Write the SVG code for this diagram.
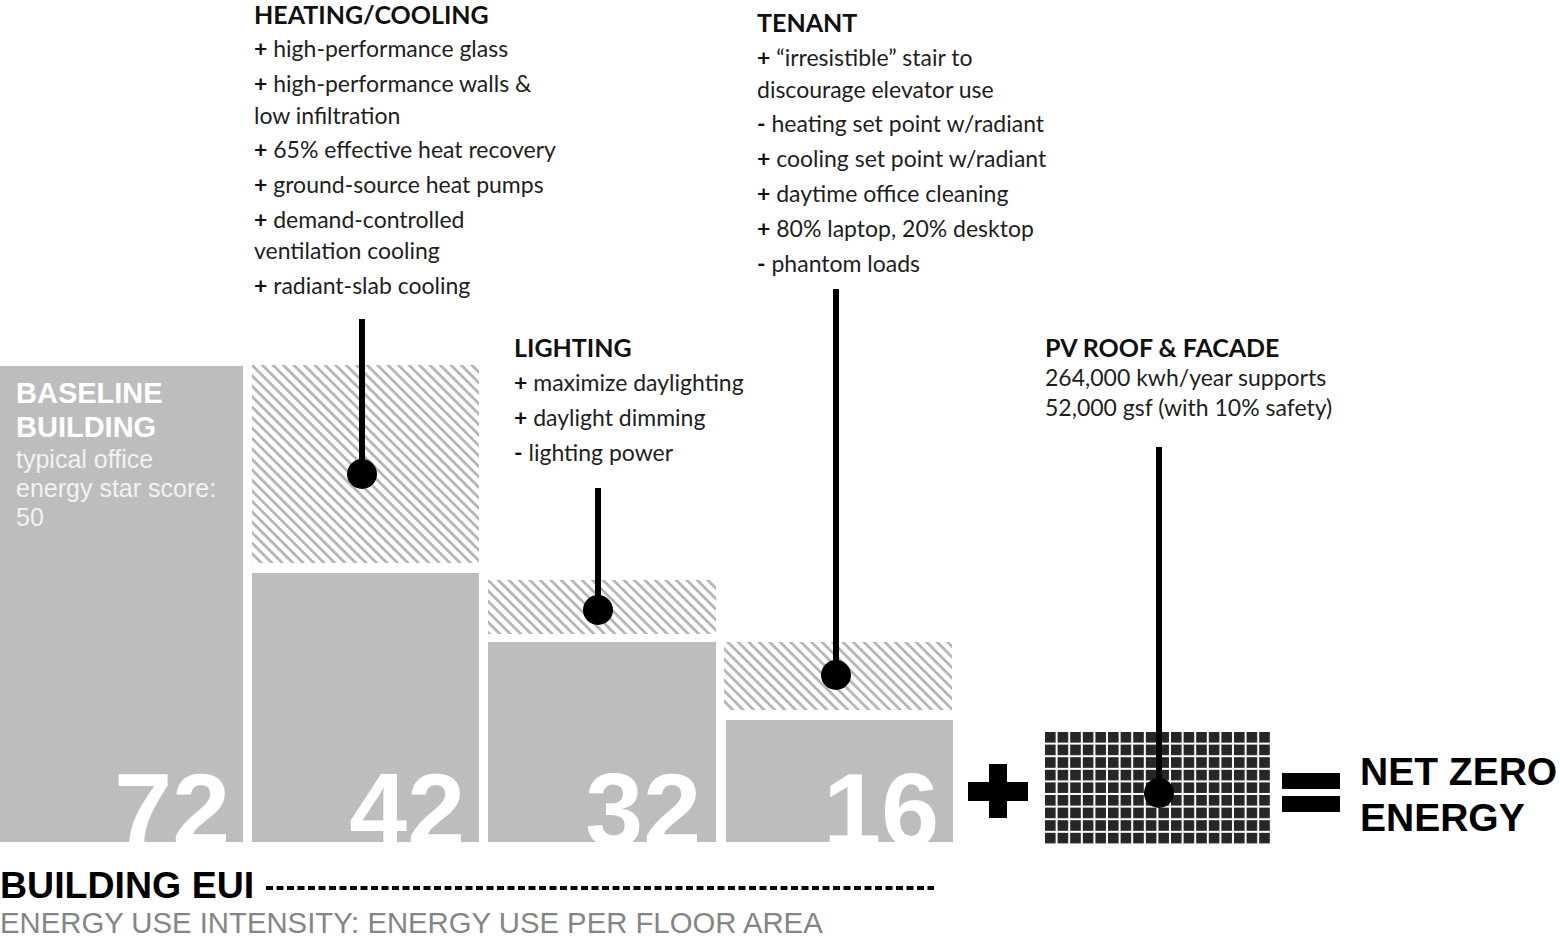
<svg xmlns="http://www.w3.org/2000/svg" width="1560" height="937" viewBox="0 0 1560 937">
<defs>
<pattern id="hatch" patternUnits="userSpaceOnUse" width="7.4" height="7.4" patternTransform="rotate(-45)">
<rect x="0" y="0" width="7.4" height="7.4" fill="#ffffff"/>
<rect x="0" y="0" width="2.8" height="7.4" fill="#b6b6b6"/>
</pattern>
<pattern id="grid" patternUnits="userSpaceOnUse" x="1045" y="732" width="12.6" height="12.6">
<rect x="0" y="0" width="12.6" height="12.6" fill="#ffffff"/>
<rect x="0" y="0" width="10.6" height="10.6" fill="#262626"/>
</pattern>
<clipPath id="clipBars"><rect x="0" y="0" width="1560" height="842"/></clipPath>
</defs>
<style>
.bar{fill:#bdbdbd}
.hatch{fill:url(#hatch)}
.big{font-family:"Liberation Sans",Arial,sans-serif;font-weight:700;font-size:104px;fill:#ffffff;text-anchor:end}
.h{font-family:Lato,"Open Sans",sans-serif;font-weight:700;font-size:25px;fill:#111111}
.t{font-family:Lato,"Open Sans",sans-serif;font-size:23px;fill:#1e1e1e}
.b{font-weight:700;fill:#111111}
.wb{font-family:"Liberation Sans",Arial,sans-serif;font-weight:700;font-size:29px;fill:#ffffff}
.wt{font-family:"Liberation Sans",Arial,sans-serif;font-size:25px;fill:#f2f2f2}
.conn{stroke:#000000;stroke-width:6;fill:none}
.dot{fill:#000000}
</style>
<rect x="0" y="0" width="1560" height="937" fill="#ffffff"/>

<g id="baseline">
<rect class="bar" x="0" y="366" width="243" height="476"/>
<text class="wb" x="16" y="403">BASELINE</text>
<text class="wb" x="16" y="437">BUILDING</text>
<text class="wt" x="16" y="468">typical office</text>
<text class="wt" x="16" y="497">energy star score:</text>
<text class="wt" x="16" y="526">50</text>
<text class="big" x="230" y="846" clip-path="url(#clipBars)">72</text>
</g>

<g id="heating-cooling">
<rect class="hatch" x="252" y="365" width="227" height="198"/>
<rect class="bar" x="252" y="573" width="227" height="269"/>
<text class="big" x="465" y="846" clip-path="url(#clipBars)">42</text>
<text class="h" x="254" y="24">HEATING/COOLING</text>
<text class="t" x="254" y="57"><tspan class="b">+</tspan> high-performance glass</text>
<text class="t" x="254" y="92"><tspan class="b">+</tspan> high-performance walls &amp;</text>
<text class="t" x="254" y="124">low infiltration</text>
<text class="t" x="254" y="158"><tspan class="b">+</tspan> 65% effective heat recovery</text>
<text class="t" x="254" y="193"><tspan class="b">+</tspan> ground-source heat pumps</text>
<text class="t" x="254" y="228"><tspan class="b">+</tspan> demand-controlled</text>
<text class="t" x="254" y="259">ventilation cooling</text>
<text class="t" x="254" y="294"><tspan class="b">+</tspan> radiant-slab cooling</text>
</g>

<g id="lighting">
<rect class="hatch" x="488" y="580" width="228" height="54"/>
<rect class="bar" x="488" y="642" width="228" height="200"/>
<text class="big" x="701" y="846" clip-path="url(#clipBars)">32</text>
<text class="h" x="514" y="357">LIGHTING</text>
<text class="t" x="514" y="391"><tspan class="b">+</tspan> maximize daylighting</text>
<text class="t" x="514" y="426"><tspan class="b">+</tspan> daylight dimming</text>
<text class="t" x="514" y="461"><tspan class="b">-</tspan> lighting power</text>
</g>

<g id="tenant">
<rect class="hatch" x="724" y="642" width="228" height="68"/>
<rect class="bar" x="726" y="720" width="227" height="122"/>
<text class="big" x="939" y="846" clip-path="url(#clipBars)">16</text>
<text class="h" x="757" y="32">TENANT</text>
<text class="t" x="757" y="66"><tspan class="b">+</tspan> “irresistible” stair to</text>
<text class="t" x="757" y="98">discourage elevator use</text>
<text class="t" x="757" y="132"><tspan class="b">-</tspan> heating set point w/radiant</text>
<text class="t" x="757" y="167"><tspan class="b">+</tspan> cooling set point w/radiant</text>
<text class="t" x="757" y="202"><tspan class="b">+</tspan> daytime office cleaning</text>
<text class="t" x="757" y="237"><tspan class="b">+</tspan> 80% laptop, 20% desktop</text>
<text class="t" x="757" y="272"><tspan class="b">-</tspan> phantom loads</text>
</g>

<g id="plus">
<rect x="968" y="782" width="60" height="19" fill="#000000"/>
<rect x="989" y="764" width="18" height="54" fill="#000000"/>
</g>

<g id="pv">
<rect x="1045" y="732" width="225" height="112" fill="url(#grid)"/>
<text class="h" x="1045" y="357">PV ROOF &amp; FACADE</text>
<text class="t" x="1045" y="386">264,000 kwh/year supports</text>
<text class="t" x="1045" y="416">52,000 gsf (with 10% safety)</text>
</g>

<g id="equals">
<rect x="1282" y="773" width="58" height="16" fill="#000000"/>
<rect x="1282" y="796" width="58" height="16" fill="#000000"/>
</g>

<g id="net-zero">
<text font-family="Liberation Sans, Arial, sans-serif" font-weight="700" font-size="39" fill="#000000" x="1360" y="785">NET ZERO</text>
<text font-family="Liberation Sans, Arial, sans-serif" font-weight="700" font-size="39" fill="#000000" x="1360" y="831">ENERGY</text>
</g>

<g id="axis">
<text font-family="Liberation Sans, Arial, sans-serif" font-weight="700" font-size="37.5" fill="#000000" x="0" y="898">BUILDING EUI</text>
<line x1="266" y1="888" x2="934" y2="888" stroke="#000000" stroke-width="4" stroke-dasharray="7 3.5"/>
<text font-family="Liberation Sans, Arial, sans-serif" font-size="29.3" fill="#858585" x="0" y="933">ENERGY USE INTENSITY: ENERGY USE PER FLOOR AREA</text>
</g>

<g id="connectors">
<line class="conn" x1="362" y1="319" x2="362" y2="474"/>
<circle class="dot" cx="362" cy="474" r="15"/>
<line class="conn" x1="598" y1="488" x2="598" y2="610"/>
<circle class="dot" cx="598" cy="610" r="15"/>
<line class="conn" x1="836" y1="289" x2="836" y2="675"/>
<circle class="dot" cx="836" cy="675" r="15"/>
<line class="conn" x1="1159" y1="447" x2="1159" y2="793"/>
<circle class="dot" cx="1159" cy="793" r="15"/>
</g>
</svg>
